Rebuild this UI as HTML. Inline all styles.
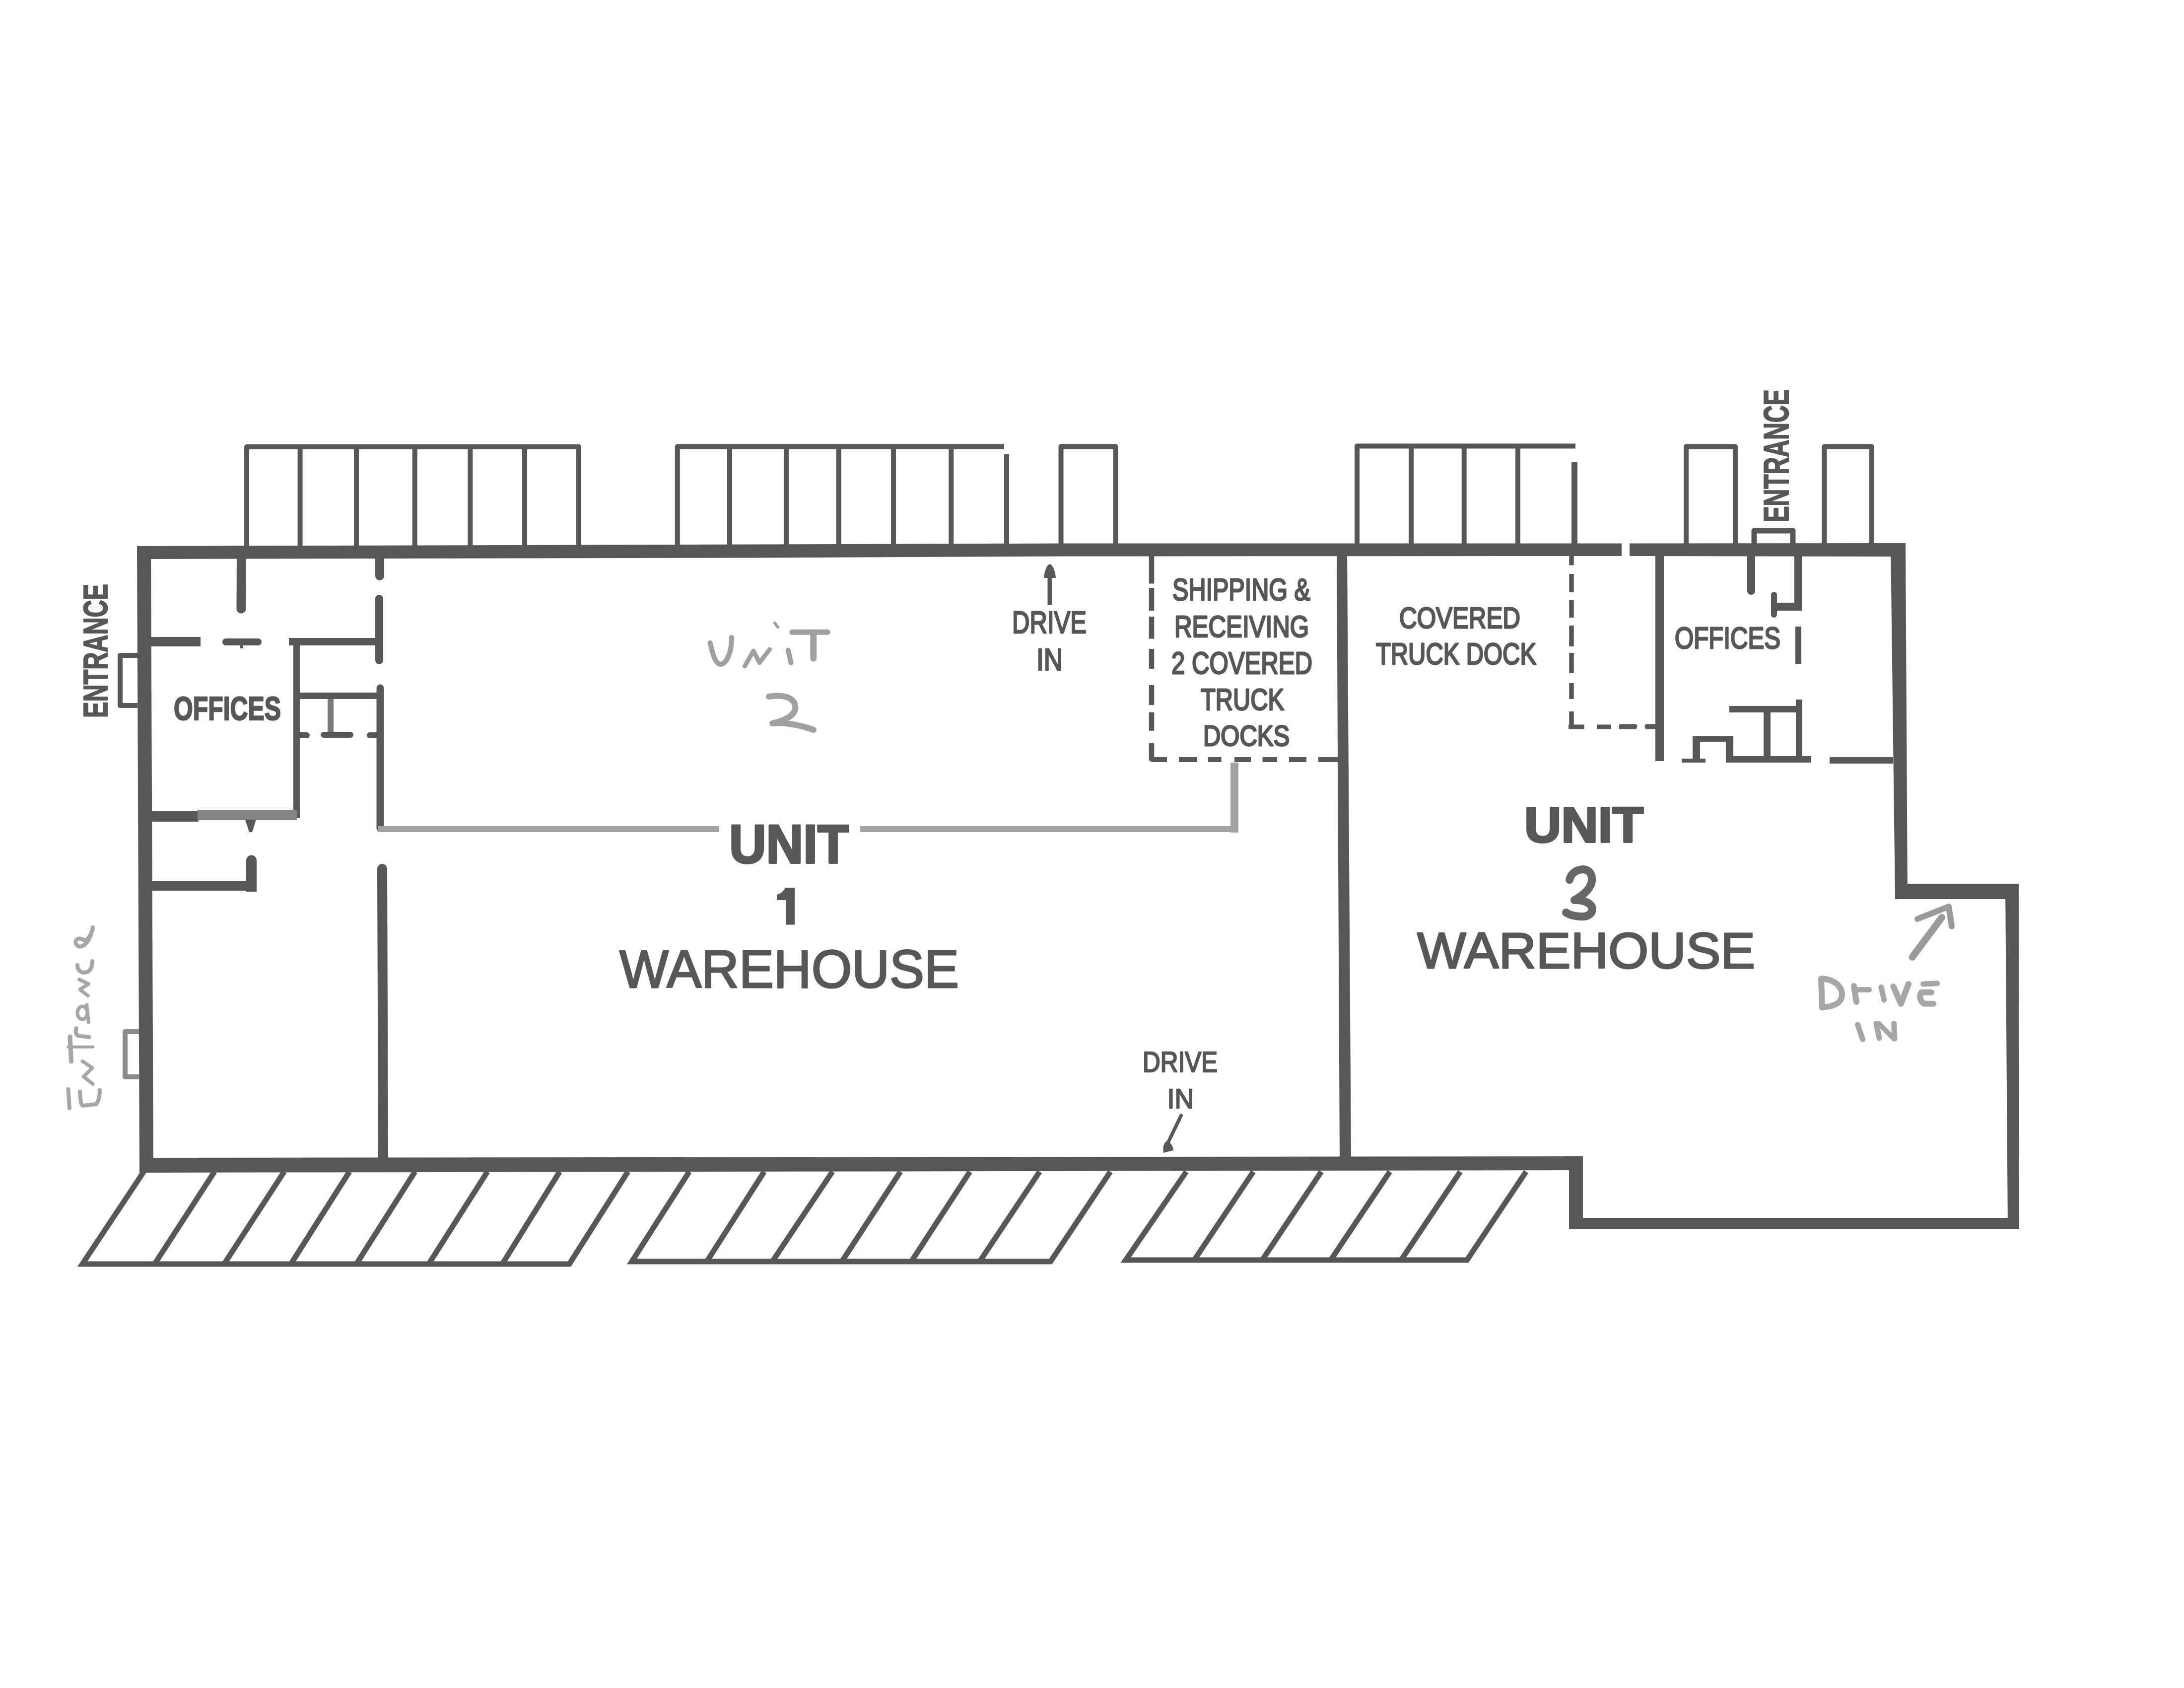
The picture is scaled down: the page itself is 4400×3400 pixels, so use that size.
<!DOCTYPE html>
<html><head><meta charset="utf-8"><style>
html,body{margin:0;padding:0;background:#fff;}
svg{display:block;}
text{font-family:"Liberation Sans", sans-serif;}
</style></head><body>
<svg width="4400" height="3400" viewBox="0 0 4400 3400">
<rect x="0" y="0" width="4400" height="3400" fill="#ffffff"/>
<polygon points="276,1100.0 1530,1096.5 2150,1094.5 3267,1094.5 3267,1120.0 2150,1120.5 1530,1123.5 276,1126.0" fill="#575757"/>
<polygon points="3283,1094.486013986014 3839,1094.0 3839,1121.0 3283,1120.027972027972" fill="#575757"/>
<polygon points="276,1100 304,1100 309,2362 281,2362" fill="#575757"/>
<polygon points="281,2331.994850669413 3189,2329.0 3189,2357.0 281,2361.991417782355" fill="#575757"/>
<polygon points="2693,1110 2714,1110 2722,2340 2699,2340" fill="#575757"/>
<polygon points="3809,1094.5 3839,1094.5 3843,1810 3818,1810" fill="#575757"/>
<rect x="3818" y="1780" width="249" height="31" fill="#575757"/>
<polygon points="4040,1780 4067,1780 4068,2476 4045,2476" fill="#575757"/>
<rect x="3161" y="2453" width="907" height="23" fill="#575757"/>
<rect x="3161" y="2329" width="28" height="147" fill="#575757"/>
<path d="M497,1104 L497,900 L1166,900 L1166,1104" fill="none" stroke="#575757" stroke-width="10" stroke-linecap="butt" stroke-linejoin="round"/>
<line x1="604.6" y1="900" x2="604.6" y2="1104" stroke="#575757" stroke-width="10" stroke-linecap="butt"/>
<line x1="718" y1="900" x2="718" y2="1104" stroke="#575757" stroke-width="10" stroke-linecap="butt"/>
<line x1="835.7" y1="900" x2="835.7" y2="1104" stroke="#575757" stroke-width="10" stroke-linecap="butt"/>
<line x1="947.4" y1="900" x2="947.4" y2="1104" stroke="#575757" stroke-width="10" stroke-linecap="butt"/>
<line x1="1057" y1="900" x2="1057" y2="1104" stroke="#575757" stroke-width="10" stroke-linecap="butt"/>
<path d="M1364.8,1104 L1364.8,899.5 L2023,899.5" fill="none" stroke="#575757" stroke-width="10" stroke-linecap="butt" stroke-linejoin="round"/>
<line x1="1470" y1="899.5" x2="1470" y2="1104" stroke="#575757" stroke-width="10" stroke-linecap="butt"/>
<line x1="1584" y1="899.5" x2="1584" y2="1104" stroke="#575757" stroke-width="10" stroke-linecap="butt"/>
<line x1="1689.7" y1="899.5" x2="1689.7" y2="1104" stroke="#575757" stroke-width="10" stroke-linecap="butt"/>
<line x1="1800" y1="899.5" x2="1800" y2="1104" stroke="#575757" stroke-width="10" stroke-linecap="butt"/>
<line x1="1916.3" y1="899.5" x2="1916.3" y2="1104" stroke="#575757" stroke-width="10" stroke-linecap="butt"/>
<line x1="2028" y1="915" x2="2028" y2="1104" stroke="#575757" stroke-width="10" stroke-linecap="butt"/>
<path d="M2137.5,1104 L2137.5,899.5 L2247.5,899.5 L2247.5,1104" fill="none" stroke="#575757" stroke-width="10" stroke-linecap="butt" stroke-linejoin="round"/>
<path d="M2734,1100 L2734,898.5 L3174,898.5" fill="none" stroke="#575757" stroke-width="10" stroke-linecap="butt" stroke-linejoin="round"/>
<line x1="2843" y1="898.5" x2="2843" y2="1100" stroke="#575757" stroke-width="10" stroke-linecap="butt"/>
<line x1="2949.7" y1="898.5" x2="2949.7" y2="1100" stroke="#575757" stroke-width="10" stroke-linecap="butt"/>
<line x1="3058" y1="898.5" x2="3058" y2="1100" stroke="#575757" stroke-width="10" stroke-linecap="butt"/>
<line x1="3172" y1="931" x2="3172" y2="1100" stroke="#575757" stroke-width="12" stroke-linecap="butt"/>
<path d="M3397,1098 L3397,899.5 L3496,899.5 L3496,1098" fill="none" stroke="#575757" stroke-width="10" stroke-linecap="butt" stroke-linejoin="round"/>
<path d="M3675.5,1098 L3675.5,899.5 L3770.7,899.5 L3770.7,1098" fill="none" stroke="#575757" stroke-width="10" stroke-linecap="butt" stroke-linejoin="round"/>
<path d="M3534,1096 L3534,1069 L3612,1069 L3612,1096" fill="none" stroke="#575757" stroke-width="11" stroke-linecap="butt" stroke-linejoin="round"/>
<line x1="486.5" y1="1110" x2="486" y2="1226" stroke="#575757" stroke-width="19" stroke-linecap="round"/>
<line x1="765" y1="1110" x2="765" y2="1160" stroke="#575757" stroke-width="18" stroke-linecap="round"/>
<rect x="290" y="1283" width="114" height="19" fill="#575757"/>
<line x1="455" y1="1293" x2="520" y2="1293" stroke="#575757" stroke-width="14" stroke-linecap="round"/>
<line x1="487" y1="1293" x2="487" y2="1306" stroke="#575757" stroke-width="6" stroke-linecap="butt"/>
<rect x="582" y="1285" width="188" height="15" fill="#575757"/>
<line x1="764" y1="1206" x2="764" y2="1330" stroke="#575757" stroke-width="16" stroke-linecap="round"/>
<rect x="591" y="1290" width="13" height="358" fill="#575757"/>
<rect x="591" y="1395" width="181" height="13" fill="#575757"/>
<line x1="766" y1="1386" x2="766" y2="1668" stroke="#575757" stroke-width="15" stroke-linecap="round"/>
<line x1="666" y1="1408" x2="666" y2="1476" stroke="#7a7a7a" stroke-width="12" stroke-linecap="butt"/>
<line x1="652" y1="1480" x2="706" y2="1480" stroke="#575757" stroke-width="12" stroke-linecap="round"/>
<line x1="598" y1="1481" x2="618" y2="1481" stroke="#575757" stroke-width="12" stroke-linecap="round"/>
<line x1="745" y1="1481" x2="762" y2="1481" stroke="#575757" stroke-width="12" stroke-linecap="round"/>
<rect x="290" y="1634" width="110" height="21" fill="#575757"/>
<rect x="398" y="1631" width="200" height="21" fill="#858585"/>
<path d="M494,1651 L516,1651 L508,1676 L502,1676 Z" fill="#575757"/>
<rect x="761" y="1664" width="688" height="12" fill="#a2a2a2"/>
<rect x="1733" y="1664" width="762" height="12" fill="#a2a2a2"/>
<rect x="2479" y="1536" width="16" height="141" fill="#a2a2a2"/>
<rect x="290" y="1775" width="226" height="19" fill="#575757"/>
<rect x="496" y="1733" width="21" height="63" fill="#575757"/>
<circle cx="506.5" cy="1733" r="10.5" fill="#575757"/>
<line x1="770" y1="1750" x2="772" y2="2345" stroke="#575757" stroke-width="20" stroke-linecap="round"/>
<path d="M277,1320 L242,1320 L242,1421 L277,1421" fill="none" stroke="#575757" stroke-width="10" stroke-linecap="butt" stroke-linejoin="round"/>
<line x1="2320" y1="1119" x2="2320" y2="1175.5" stroke="#575757" stroke-width="10.5" stroke-linecap="butt"/>
<line x1="2320" y1="1184" x2="2320" y2="1230" stroke="#575757" stroke-width="10.5" stroke-linecap="butt"/>
<line x1="2320" y1="1242" x2="2320" y2="1286.6" stroke="#575757" stroke-width="10.5" stroke-linecap="butt"/>
<line x1="2320" y1="1307" x2="2320" y2="1347" stroke="#575757" stroke-width="10.5" stroke-linecap="butt"/>
<line x1="2320" y1="1380" x2="2320" y2="1420" stroke="#575757" stroke-width="10.5" stroke-linecap="butt"/>
<line x1="2320" y1="1434.6" x2="2320" y2="1471.7" stroke="#575757" stroke-width="10.5" stroke-linecap="butt"/>
<line x1="2320" y1="1497" x2="2320" y2="1532" stroke="#575757" stroke-width="10.5" stroke-linecap="butt"/>
<line x1="2318.5" y1="1530" x2="2351" y2="1530" stroke="#575757" stroke-width="10" stroke-linecap="butt"/>
<line x1="2375" y1="1530" x2="2412" y2="1530" stroke="#575757" stroke-width="10" stroke-linecap="butt"/>
<line x1="2434" y1="1530" x2="2460.6" y2="1530" stroke="#575757" stroke-width="10" stroke-linecap="butt"/>
<line x1="2487" y1="1530" x2="2520" y2="1530" stroke="#575757" stroke-width="10" stroke-linecap="butt"/>
<line x1="2543.5" y1="1530" x2="2573" y2="1530" stroke="#575757" stroke-width="10" stroke-linecap="butt"/>
<line x1="2597" y1="1530" x2="2632" y2="1530" stroke="#575757" stroke-width="10" stroke-linecap="butt"/>
<line x1="2656" y1="1530" x2="2700" y2="1530" stroke="#575757" stroke-width="10" stroke-linecap="butt"/>
<line x1="3166" y1="1119" x2="3166" y2="1138.5" stroke="#575757" stroke-width="9.5" stroke-linecap="butt"/>
<line x1="3166" y1="1156" x2="3166" y2="1193" stroke="#575757" stroke-width="9.5" stroke-linecap="butt"/>
<line x1="3166" y1="1209" x2="3166" y2="1244" stroke="#575757" stroke-width="9.5" stroke-linecap="butt"/>
<line x1="3166" y1="1260" x2="3166" y2="1302" stroke="#575757" stroke-width="9.5" stroke-linecap="butt"/>
<line x1="3166" y1="1315" x2="3166" y2="1356" stroke="#575757" stroke-width="9.5" stroke-linecap="butt"/>
<line x1="3166" y1="1376" x2="3166" y2="1408" stroke="#575757" stroke-width="9.5" stroke-linecap="butt"/>
<line x1="3166" y1="1433" x2="3166" y2="1468" stroke="#575757" stroke-width="9.5" stroke-linecap="butt"/>
<line x1="3160" y1="1464" x2="3191.7" y2="1464" stroke="#575757" stroke-width="9" stroke-linecap="butt"/>
<line x1="3217" y1="1464" x2="3246" y2="1464" stroke="#575757" stroke-width="9" stroke-linecap="butt"/>
<line x1="3262" y1="1464" x2="3297" y2="1464" stroke="#575757" stroke-width="9" stroke-linecap="butt"/>
<line x1="3315" y1="1464" x2="3340" y2="1464" stroke="#575757" stroke-width="9" stroke-linecap="butt"/>
<rect x="3335" y="1115" width="17" height="418" fill="#575757"/>
<line x1="3266" y1="1463" x2="3294" y2="1463" stroke="#575757" stroke-width="9" stroke-linecap="round"/>
<line x1="3318" y1="1463" x2="3338" y2="1463" stroke="#575757" stroke-width="9" stroke-linecap="round"/>
<line x1="3528" y1="1121" x2="3528" y2="1190" stroke="#575757" stroke-width="16" stroke-linecap="round"/>
<rect x="3615" y="1115" width="15" height="115" fill="#575757"/>
<rect x="3569" y="1214" width="61" height="16" fill="#575757"/>
<line x1="3574" y1="1198" x2="3574" y2="1238" stroke="#575757" stroke-width="12" stroke-linecap="round"/>
<line x1="3623" y1="1262" x2="3623" y2="1337" stroke="#575757" stroke-width="12" stroke-linecap="butt"/>
<rect x="3484" y="1422" width="146" height="13" fill="#575757"/>
<rect x="3618" y="1409" width="13" height="120" fill="#575757"/>
<rect x="3553" y="1430" width="14" height="99" fill="#575757"/>
<rect x="3481" y="1523" width="168" height="13" fill="#575757"/>
<rect x="3410" y="1483" width="82" height="11" fill="#575757"/>
<rect x="3410" y="1483" width="15" height="53" fill="#575757"/>
<rect x="3477" y="1483" width="15" height="53" fill="#575757"/>
<rect x="3388" y="1528" width="48" height="8" fill="#575757"/>
<rect x="3686" y="1525" width="128" height="13" fill="#575757"/>
<line x1="2115" y1="1155" x2="2115" y2="1219" stroke="#575757" stroke-width="9" stroke-linecap="butt"/>
<path d="M2115,1136 C2121,1138 2126,1150 2127,1164 L2103,1164 C2104,1150 2109,1138 2115,1136 Z" fill="#575757"/>
<line x1="2379.5" y1="2247" x2="2350" y2="2308" stroke="#575757" stroke-width="7" stroke-linecap="round"/>
<path d="M2344,2322 C2342,2310 2345,2300 2352,2298 C2360,2302 2364,2312 2364,2317 Z" fill="#575757"/>
<path d="M1582,1788 L1601,1788 L1601,1862.5 L1583,1862.5 L1583,1813 L1565,1813 L1565,1802 C1573,1800 1579,1795 1582,1788 Z" fill="#575757"/>
<path d="M3162,1772 C3165,1758 3178,1751 3190,1751 C3203,1752 3208,1762 3207,1774 C3205,1790 3190,1803 3172,1813 C3192,1812 3208,1820 3208,1832 C3207,1843 3196,1847 3183,1846 C3170,1845 3160,1842 3155,1838" fill="none" stroke="#666666" stroke-width="16" stroke-linecap="round" stroke-linejoin="round"/>
<path d="M289.6,2360 L166,2546 L1147,2546 L1265,2360" fill="none" stroke="#575757" stroke-width="11" stroke-linecap="butt" stroke-linejoin="miter"/>
<line x1="432" y1="2360" x2="311.5" y2="2546" stroke="#575757" stroke-width="11" stroke-linecap="butt"/>
<line x1="572.5" y1="2360" x2="451.6" y2="2546" stroke="#575757" stroke-width="11" stroke-linecap="butt"/>
<line x1="704" y1="2360" x2="586" y2="2546" stroke="#575757" stroke-width="11" stroke-linecap="butt"/>
<line x1="836" y1="2360" x2="718" y2="2546" stroke="#575757" stroke-width="11" stroke-linecap="butt"/>
<line x1="982" y1="2360" x2="863.7" y2="2546" stroke="#575757" stroke-width="11" stroke-linecap="butt"/>
<line x1="1127.5" y1="2360" x2="1012" y2="2546" stroke="#575757" stroke-width="11" stroke-linecap="butt"/>
<path d="M1388.5,2360 L1273,2541 L2116.5,2541 L2237,2360" fill="none" stroke="#575757" stroke-width="11" stroke-linecap="butt" stroke-linejoin="miter"/>
<line x1="1539.6" y1="2360" x2="1424" y2="2541" stroke="#575757" stroke-width="11" stroke-linecap="butt"/>
<line x1="1677" y1="2360" x2="1556" y2="2541" stroke="#575757" stroke-width="11" stroke-linecap="butt"/>
<line x1="1814" y1="2360" x2="1696" y2="2541" stroke="#575757" stroke-width="11" stroke-linecap="butt"/>
<line x1="1954" y1="2360" x2="1836" y2="2541" stroke="#575757" stroke-width="11" stroke-linecap="butt"/>
<line x1="2094.5" y1="2360" x2="1973.6" y2="2541" stroke="#575757" stroke-width="11" stroke-linecap="butt"/>
<path d="M2390,2360 L2268,2538 L2955.5,2538 L3074.5,2360" fill="none" stroke="#575757" stroke-width="11" stroke-linecap="butt" stroke-linejoin="miter"/>
<line x1="2525" y1="2360" x2="2406" y2="2538" stroke="#575757" stroke-width="11" stroke-linecap="butt"/>
<line x1="2662" y1="2360" x2="2543" y2="2538" stroke="#575757" stroke-width="11" stroke-linecap="butt"/>
<line x1="2800" y1="2360" x2="2681" y2="2538" stroke="#575757" stroke-width="11" stroke-linecap="butt"/>
<line x1="2942" y1="2360" x2="2822.7" y2="2538" stroke="#575757" stroke-width="11" stroke-linecap="butt"/>
<text transform="translate(216.0,1446.0) rotate(-90)" font-size="68.7" font-weight="bold" fill="#575757" stroke="#575757" stroke-width="2" stroke-linejoin="round" textLength="270.0" lengthAdjust="spacingAndGlyphs">ENTRANCE</text>
<text x="350.0" y="1450.0" font-size="67.3" font-weight="bold" fill="#575757" stroke="#575757" stroke-width="2.5" stroke-linejoin="round" textLength="216.0" lengthAdjust="spacingAndGlyphs">OFFICES</text>
<text x="2039.0" y="1275.0" font-size="63.0" font-weight="normal" fill="#575757" stroke="#575757" stroke-width="3" stroke-linejoin="round" textLength="150.1" lengthAdjust="spacingAndGlyphs">DRIVE</text>
<text x="2088.0" y="1350.0" font-size="62.7" font-weight="normal" fill="#575757" stroke="#575757" stroke-width="3" stroke-linejoin="round" textLength="53.0" lengthAdjust="spacingAndGlyphs">IN</text>
<text x="2362.0" y="1209.0" font-size="63.1" font-weight="normal" fill="#575757" stroke="#575757" stroke-width="3" stroke-linejoin="round" textLength="278.0" lengthAdjust="spacingAndGlyphs">SHIPPING &amp;</text>
<text x="2366.0" y="1283.0" font-size="60.3" font-weight="normal" fill="#575757" stroke="#575757" stroke-width="3" stroke-linejoin="round" textLength="271.1" lengthAdjust="spacingAndGlyphs">RECEIVING</text>
<text x="2360.0" y="1357.0" font-size="63.1" font-weight="normal" fill="#575757" stroke="#575757" stroke-width="3" stroke-linejoin="round" textLength="284.0" lengthAdjust="spacingAndGlyphs">2 COVERED</text>
<text x="2419.0" y="1430.0" font-size="60.3" font-weight="normal" fill="#575757" stroke="#575757" stroke-width="3" stroke-linejoin="round" textLength="168.0" lengthAdjust="spacingAndGlyphs">TRUCK</text>
<text x="2424.0" y="1502.0" font-size="57.5" font-weight="normal" fill="#575757" stroke="#575757" stroke-width="3" stroke-linejoin="round" textLength="174.1" lengthAdjust="spacingAndGlyphs">DOCKS</text>
<text x="2819.0" y="1265.0" font-size="59.0" font-weight="normal" fill="#575757" stroke="#575757" stroke-width="3" stroke-linejoin="round" textLength="244.0" lengthAdjust="spacingAndGlyphs">COVERED</text>
<text x="2772.0" y="1338.0" font-size="60.3" font-weight="normal" fill="#575757" stroke="#575757" stroke-width="3" stroke-linejoin="round" textLength="323.0" lengthAdjust="spacingAndGlyphs">TRUCK DOCK</text>
<text x="3374.0" y="1306.0" font-size="60.3" font-weight="normal" fill="#575757" stroke="#575757" stroke-width="3" stroke-linejoin="round" textLength="213.1" lengthAdjust="spacingAndGlyphs">OFFICES</text>
<text transform="translate(3603.0,1051.6) rotate(-90)" font-size="69.7" font-weight="bold" fill="#575757" stroke="#575757" stroke-width="2" stroke-linejoin="round" textLength="267.3" lengthAdjust="spacingAndGlyphs">ENTRANCE</text>
<text x="1469.0" y="1738.2" font-size="108.5" font-weight="bold" fill="#575757" stroke="#575757" stroke-width="4" stroke-linejoin="round" textLength="241.0" lengthAdjust="spacingAndGlyphs">UNIT</text>
<text x="1248.0" y="1989.0" font-size="108.3" font-weight="normal" fill="#575757" stroke="#575757" stroke-width="3" stroke-linejoin="round" textLength="684.0" lengthAdjust="spacingAndGlyphs">WAREHOUSE</text>
<text x="3071.0" y="1696.0" font-size="100.6" font-weight="bold" fill="#575757" stroke="#575757" stroke-width="4" stroke-linejoin="round" textLength="240.1" lengthAdjust="spacingAndGlyphs">UNIT</text>
<text x="2855.0" y="1950.0" font-size="102.3" font-weight="normal" fill="#575757" stroke="#575757" stroke-width="3" stroke-linejoin="round" textLength="681.0" lengthAdjust="spacingAndGlyphs">WAREHOUSE</text>
<text x="2302.0" y="2159.0" font-size="57.8" font-weight="normal" fill="#575757" stroke="#575757" stroke-width="2.5" stroke-linejoin="round" textLength="151.1" lengthAdjust="spacingAndGlyphs">DRIVE</text>
<text x="2351.6" y="2232.0" font-size="56.0" font-weight="normal" fill="#575757" stroke="#575757" stroke-width="2.5" stroke-linejoin="round" textLength="53.6" lengthAdjust="spacingAndGlyphs">IN</text>
<path d="M1430.7,1294.8 C1436,1320 1442,1338 1452,1338 C1466,1336 1474,1310 1474,1284" fill="none" stroke="#a0a0a0" stroke-width="10" stroke-linecap="round" stroke-linejoin="round"/>
<path d="M1500.3,1342 L1518,1311 L1530,1334.8 L1550.7,1308" fill="none" stroke="#a0a0a0" stroke-width="9" stroke-linecap="round" stroke-linejoin="round"/>
<path d="M1587.7,1309.6 L1593.6,1334.8" fill="none" stroke="#a0a0a0" stroke-width="10" stroke-linecap="round" stroke-linejoin="round"/>
<path d="M1561,1255 L1567,1263" fill="none" stroke="#a0a0a0" stroke-width="6" stroke-linecap="round" stroke-linejoin="round"/>
<path d="M1596,1273.3 L1667,1273.3" fill="none" stroke="#a0a0a0" stroke-width="11" stroke-linecap="round" stroke-linejoin="round"/>
<path d="M1638.8,1274 L1638.8,1326" fill="none" stroke="#a0a0a0" stroke-width="13" stroke-linecap="round" stroke-linejoin="round"/>
<path d="M1549,1403 C1568,1400 1590,1400 1600,1415 C1608,1432 1596,1448 1556,1457 C1585,1455 1610,1460 1639,1470" fill="none" stroke="#a0a0a0" stroke-width="12" stroke-linecap="round" stroke-linejoin="round"/>
<path d="M137.5,2194 L140,2232" fill="none" stroke="#a6a6a6" stroke-width="8" stroke-linecap="round" stroke-linejoin="round"/>
<path d="M161,2199 C162,2214 163,2226 167,2227 L194,2224 C199,2217 201,2207 201,2196" fill="none" stroke="#a6a6a6" stroke-width="8" stroke-linecap="round" stroke-linejoin="round"/>
<path d="M166,2137.4 L186,2151 L168.4,2168.5 L187,2183.4" fill="none" stroke="#a6a6a6" stroke-width="7" stroke-linecap="round" stroke-linejoin="round"/>
<path d="M141,2088 L143.5,2138" fill="none" stroke="#a6a6a6" stroke-width="9" stroke-linecap="round" stroke-linejoin="round"/>
<path d="M137.3,2108.8 L187,2108.8" fill="none" stroke="#a6a6a6" stroke-width="6" stroke-linecap="round" stroke-linejoin="round"/>
<path d="M179.6,2088.9 L158.5,2086.4 C153.5,2085 151,2079 153.5,2071" fill="none" stroke="#a6a6a6" stroke-width="8" stroke-linecap="round" stroke-linejoin="round"/>
<ellipse cx="166" cy="2040" rx="10" ry="13" fill="none" stroke="#a6a6a6" stroke-width="7"/>
<path d="M174.7,2024 L178.4,2059" fill="none" stroke="#a6a6a6" stroke-width="7" stroke-linecap="round" stroke-linejoin="round"/>
<path d="M159.7,1973 L178.4,1982 L161,1993 L177,2005.5" fill="none" stroke="#a6a6a6" stroke-width="7" stroke-linecap="round" stroke-linejoin="round"/>
<path d="M186,1936 C186,1952 180,1959 168,1959 C160,1958 156,1952 156,1944" fill="none" stroke="#a6a6a6" stroke-width="8" stroke-linecap="round" stroke-linejoin="round"/>
<path d="M187,1868 C182,1897 167,1911 156,1905 C147,1896 156,1887 166,1892 C174,1897 180,1890 187,1872" fill="none" stroke="#a6a6a6" stroke-width="8" stroke-linecap="round" stroke-linejoin="round"/>
<path d="M280,2078 L252,2078 L252,2169 L280,2169" fill="none" stroke="#8a8a8a" stroke-width="10" stroke-linecap="butt" stroke-linejoin="round"/>
<path d="M3669,1972 L3670.8,2029.5" fill="none" stroke="#a6a6a6" stroke-width="12" stroke-linecap="round" stroke-linejoin="round"/>
<path d="M3669.5,1971 C3690,1972 3708,1982 3711,2000 C3712,2018 3700,2027 3671,2029" fill="none" stroke="#a6a6a6" stroke-width="12" stroke-linecap="round" stroke-linejoin="round"/>
<path d="M3735,1986 L3740,2018" fill="none" stroke="#a6a6a6" stroke-width="12" stroke-linecap="round" stroke-linejoin="round"/>
<path d="M3737.4,1993.6 L3765.6,1993.6" fill="none" stroke="#a6a6a6" stroke-width="11" stroke-linecap="round" stroke-linejoin="round"/>
<path d="M3790,1988.5 L3795.8,2014" fill="none" stroke="#a6a6a6" stroke-width="11" stroke-linecap="round" stroke-linejoin="round"/>
<path d="M3814.4,1987 L3829.7,2021.8 L3845,1982" fill="none" stroke="#a6a6a6" stroke-width="12" stroke-linecap="round" stroke-linejoin="round"/>
<path d="M3874.6,1982 L3902.8,1980.8" fill="none" stroke="#a6a6a6" stroke-width="11" stroke-linecap="round" stroke-linejoin="round"/>
<path d="M3891,1998.7 L3871,1998.7 C3866,2005 3867,2016 3877,2021.8 L3895,2021.8" fill="none" stroke="#a6a6a6" stroke-width="12" stroke-linecap="round" stroke-linejoin="round"/>
<path d="M3742.6,2064 L3752.8,2093.6" fill="none" stroke="#a6a6a6" stroke-width="11" stroke-linecap="round" stroke-linejoin="round"/>
<path d="M3780,2061.5 L3786,2091" fill="none" stroke="#a6a6a6" stroke-width="11" stroke-linecap="round" stroke-linejoin="round"/>
<path d="M3785,2061.5 L3815.6,2092.3" fill="none" stroke="#a6a6a6" stroke-width="10" stroke-linecap="round" stroke-linejoin="round"/>
<path d="M3815.6,2061.5 L3817,2092.3" fill="none" stroke="#a6a6a6" stroke-width="11" stroke-linecap="round" stroke-linejoin="round"/>
<path d="M3852.5,1928 L3912,1848" fill="none" stroke="#9a9a9a" stroke-width="14" stroke-linecap="round" stroke-linejoin="round"/>
<path d="M3863,1851 L3926,1826 L3932,1866" fill="none" stroke="#9a9a9a" stroke-width="12" stroke-linecap="round" stroke-linejoin="round"/>
</svg>
</body></html>
